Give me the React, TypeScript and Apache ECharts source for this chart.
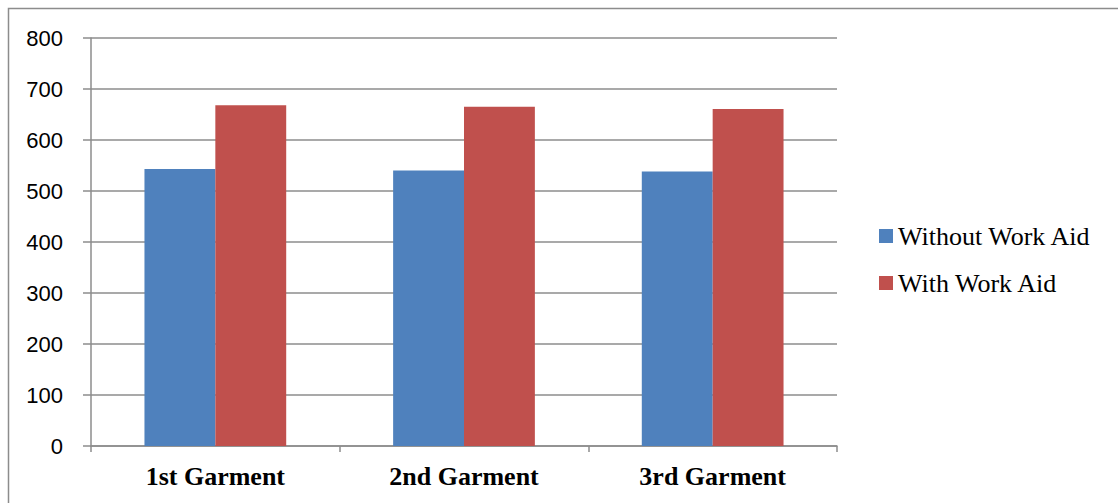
import React, { useEffect, useRef } from "react";
import * as echarts from "echarts";

const categories = ["1st Garment", "2nd Garment", "3rd Garment"];
const withoutAid = [543, 540, 538];
const withAid = [668, 665, 661];
const seriesNames = ["Without Work Aid", "With Work Aid"];

export default function App() {
  const ref = useRef<HTMLDivElement>(null);
  useEffect(() => {
    const chart = echarts.init(ref.current!, null, { renderer: "svg" });
    chart.setOption({
      animation: false,
      backgroundColor: "#ffffff",
      graphic: [
        {
          type: "rect",
          shape: { x: 8.5, y: 8.5, width: 1120, height: 520 },
          style: { fill: "none", stroke: "#8c8c8c", lineWidth: 1.5 },
          silent: true,
        },
      ],
      grid: { left: 91, top: 38, right: 281, bottom: 57 },
      legend: {
        orient: "vertical",
        left: 879,
        top: 223,
        padding: 0,
        icon: "rect",
        itemWidth: 14,
        itemHeight: 14,
        itemGap: 21,
        textStyle: { fontFamily: "Liberation Serif", fontSize: 26, color: "#000" },
        data: seriesNames,
      },
      xAxis: {
        type: "category",
        data: categories,
        axisLine: { lineStyle: { color: "#8c8c8c", width: 1.5 } },
        axisTick: { show: true, length: 6, lineStyle: { color: "#8c8c8c", width: 1.5 } },
        axisLabel: {
          fontFamily: "Liberation Serif",
          fontWeight: "bold",
          fontSize: 26,
          color: "#000",
          margin: 17,
        },
      },
      yAxis: {
        type: "value",
        min: 0,
        max: 800,
        interval: 100,
        axisLine: { show: true, lineStyle: { color: "#8c8c8c", width: 1.5 } },
        axisTick: { show: true, length: 8, lineStyle: { color: "#8c8c8c", width: 1.5 } },
        splitLine: { lineStyle: { color: "#8c8c8c", width: 1.5 } },
        axisLabel: {
          fontFamily: "Liberation Sans",
          fontSize: 22,
          color: "#000",
          margin: 28,
        },
      },
      series: [
        {
          name: seriesNames[0],
          type: "bar",
          data: withoutAid,
          barGap: "0%",
          barCategoryGap: "43%",
          itemStyle: { color: "#4f81bd" },
        },
        {
          name: seriesNames[1],
          type: "bar",
          data: withAid,
          barGap: "0%",
          barCategoryGap: "43%",
          itemStyle: { color: "#c0504d" },
        },
      ],
    });
    return () => chart.dispose();
  }, []);
  return (
    <div
      ref={ref}
      style={{ position: "fixed", left: 0, top: 0, width: 1118, height: 503 }}
    />
  );
}
